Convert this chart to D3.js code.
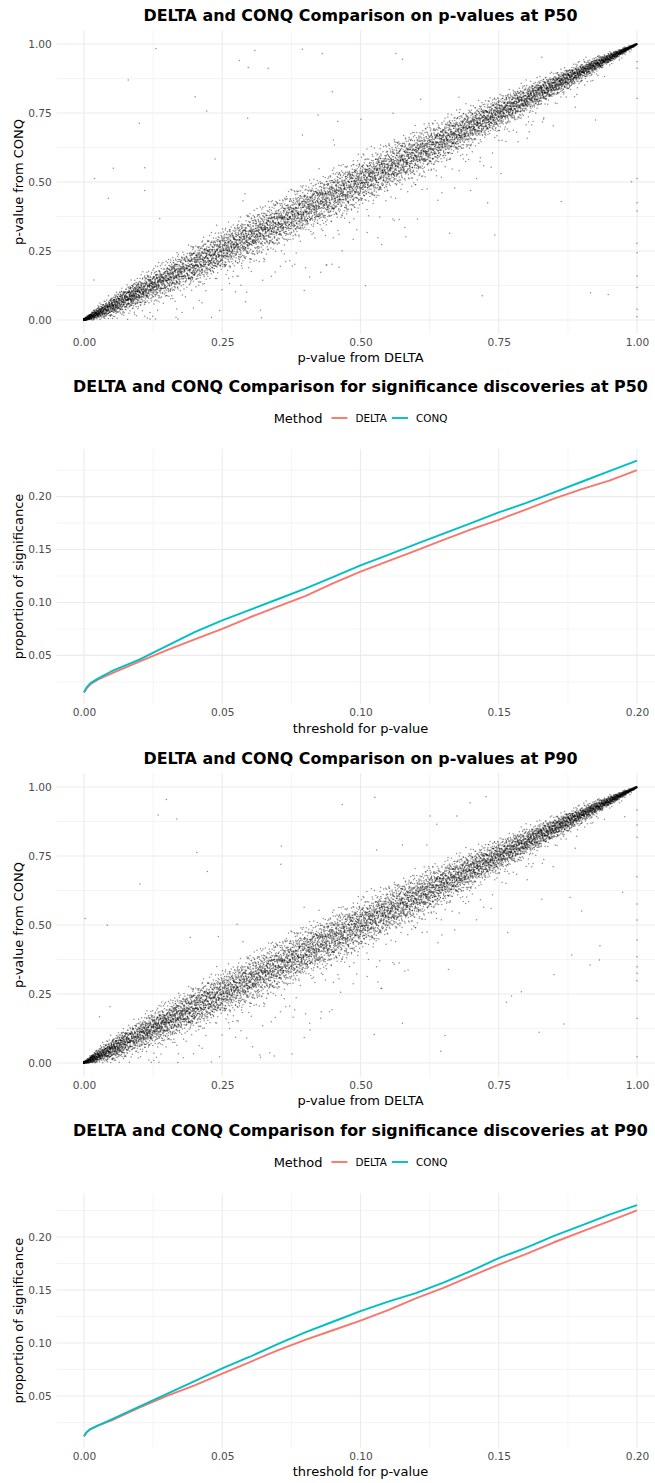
<!DOCTYPE html>
<html>
<head>
<meta charset="utf-8">
<script src="https://cdn.jsdelivr.net/npm/d3@7"></script>
<style>
  body { margin: 0; background: #fff; }
  svg { display: block; font-family: "DejaVu Sans", sans-serif; }
</style>
</head>
<body>
<div id="chart"></div>
<script>
// ─── data ───
const thresholds = [0, 0.001, 0.0025, 0.005, 0.01, 0.02, 0.03, 0.04, 0.05, 0.06, 0.07, 0.08, 0.09, 0.10,
  0.11, 0.12, 0.13, 0.14, 0.15, 0.16, 0.17, 0.18, 0.19, 0.20];
const p50Delta = [0.015, 0.019, 0.023, 0.027, 0.033, 0.044, 0.055, 0.065, 0.075, 0.086, 0.096, 0.106, 0.118, 0.129,
  0.139, 0.149, 0.159, 0.169, 0.178, 0.188, 0.198, 0.207, 0.215, 0.225];
const p50Conq = [0.015, 0.020, 0.024, 0.028, 0.035, 0.046, 0.059, 0.072, 0.083, 0.093, 0.103, 0.113, 0.124, 0.135,
  0.145, 0.155, 0.165, 0.175, 0.185, 0.194, 0.204, 0.214, 0.224, 0.234];
const p90Delta = [0.012, 0.016, 0.019, 0.022, 0.027, 0.039, 0.050, 0.060, 0.071, 0.082, 0.093, 0.103, 0.112, 0.121,
  0.131, 0.142, 0.152, 0.163, 0.174, 0.184, 0.195, 0.205, 0.215, 0.225];
const p90Conq = [0.012, 0.016, 0.019, 0.022, 0.028, 0.040, 0.052, 0.064, 0.076, 0.087, 0.099, 0.110, 0.120, 0.130,
  0.139, 0.147, 0.157, 0.168, 0.180, 0.190, 0.201, 0.211, 0.221, 0.230];

const methods = ['DELTA', 'CONQ'];
const methodColors = ['#F8766D', '#00BFC4'];

// spread (sd) of the dense band around the diagonal, read at these DELTA p-values
const bandX = [0, 0.02, 0.05, 0.1, 0.2, 0.3, 0.4, 0.5, 0.6, 0.7, 0.8, 0.9, 0.95, 1];
const bandSdP50 = [0.002, 0.009, 0.016, 0.024, 0.033, 0.038, 0.040, 0.040, 0.038, 0.032, 0.024, 0.015, 0.008, 0.001];
const bandSdP90 = [0.002, 0.010, 0.018, 0.026, 0.035, 0.040, 0.042, 0.041, 0.038, 0.031, 0.023, 0.014, 0.008, 0.001];
const cloudCount = 9500;

// isolated points
const outliersP50 = [[0.130,0.984],[0.080,0.870],[0.100,0.713],[0.019,0.513],[0.053,0.550],[0.044,0.441],[0.110,0.552],
  [0.110,0.469],[0.137,0.368],[0.201,0.809],[0.222,0.757],[0.237,0.583],[0.281,0.940],[0.297,0.915],[0.309,0.976],
  [0.333,0.912],[0.296,0.731],[0.395,0.981],[0.431,0.966],[0.423,0.743],[0.395,0.670],[0.018,0.145],[0.291,0.457],
  [0.292,0.066],[0.321,0.008],[0.170,0.004],[0.377,0.196],[0.439,0.199],[0.564,0.966],[0.576,0.945],[0.828,0.952],
  [0.449,0.827],[0.609,0.800],[0.678,0.807],[0.559,0.749],[0.459,0.719],[0.501,0.727],[0.451,0.652],[0.453,0.634],
  [0.887,0.809],[0.925,0.725],[0.831,0.727],[0.785,0.646],[0.805,0.682],[0.750,0.650],[0.716,0.574],[0.754,0.531],
  [0.699,0.469],[0.730,0.425],[0.863,0.429],[0.990,0.501],[0.603,0.366],[0.582,0.302],[0.661,0.314],[0.743,0.308],
  [0.467,0.251],[0.438,0.199],[0.461,0.191],[0.509,0.124],[0.720,0.088],[0.916,0.099],[0.948,0.092],
  [1,0.936],[1,0.912],[1,0.803],[1,0.513],[1,0.425],[1,0.395],[1,0.278],[1,0.244],[1,0.159],[1,0.118],[1,0.039],[1,0.012]];
const outliersP90 = [[0.149,0.955],[0.134,0.899],[0.168,0.884],[0.204,0.763],[0.223,0.694],[0.101,0.649],[0.357,0.786],
  [0.356,0.720],[0.398,0.564],[0.002,0.524],[0.042,0.499],[0.277,0.503],[0.192,0.455],[0.243,0.458],[0.047,0.204],
  [0.028,0.168],[0.336,0.037],[0.344,0.025],[0.376,0.033],[0.409,0.120],[0.429,0.186],[0.378,0.166],[0.305,0.059],
  [0.318,0.029],[0.526,0.963],[0.467,0.937],[0.698,0.943],[0.727,0.965],[0.626,0.895],[0.674,0.895],[0.638,0.865],
  [0.529,0.772],[0.576,0.790],[0.620,0.790],[0.978,0.892],[0.974,0.619],[0.879,0.600],[0.900,0.551],[0.828,0.593],
  [0.766,0.473],[0.933,0.425],[0.882,0.391],[0.932,0.373],[0.915,0.355],[0.850,0.321],[0.659,0.339],[0.586,0.337],
  [0.529,0.349],[0.537,0.271],[0.464,0.256],[0.773,0.243],[0.791,0.258],[0.764,0.220],[0.444,0.186],[0.576,0.144],
  [0.868,0.141],[0.525,0.103],[0.653,0.100],[0.823,0.111],[0.645,0.043],
  [1,0.917],[1,0.862],[1,0.818],[1,0.675],[1,0.576],[1,0.518],[1,0.446],[1,0.385],[1,0.349],[1,0.325],[1,0.298],[1,0.162],[1,0.023]];

const scatterTicks = [0, 0.25, 0.5, 0.75, 1];
const scatterMinor = [0.125, 0.375, 0.625, 0.875];
const lineXTicks = [0, 0.05, 0.1, 0.15, 0.2];
const lineXMinor = [0.025, 0.075, 0.125, 0.175];
const lineYTicks = [0.05, 0.1, 0.15, 0.2];
const lineYMinor = [0.025, 0.075, 0.125, 0.175, 0.225];

// ─── layout ───
const W = 655, H = 1483;
const panelLeft = 56.35, panelRight = 664.65;
const midX = (panelLeft + panelRight) / 2;

const svg = d3.select('#chart').append('svg').attr('width', W).attr('height', H);

function halton(i, b) {
  let f = 1, r = 0;
  while (i > 0) { f /= b; r += f * (i % b); i = Math.floor(i / b); }
  return r;
}

// quasi-random fill of the band described above; x follows the DELTA curve as its CDF
function buildCloud(sdArr, deltaCdf) {
  const invCdf = d3.scaleLinear().domain(deltaCdf.concat([1])).range(thresholds.concat([1])).clamp(true);
  const sd = d3.scaleLinear().domain(bandX).range(sdArr);
  const pts = [];
  for (let i = 1; i <= cloudCount; i++) {
    const u = halton(i, 2);
    const x = u < deltaCdf[0] ? 0 : invCdf(u);
    let z = (halton(i, 3) + halton(i, 5) + halton(i, 7) + halton(i, 11) - 2) * Math.sqrt(3);
    if (i % 25 === 0) z *= 2.5;
    let y = x + z * sd(x);
    if (y < 0) y = -y;
    if (y > 1) y = 2 - y;
    pts.push([x, y]);
  }
  return pts;
}

function expand(ext) {
  const pad = (ext[1] - ext[0]) * 0.05;
  return [ext[0] - pad, ext[1] + pad];
}

function grid(g, x, y, top, bottom, xMaj, xMin, yMaj, yMin) {
  const minorStyle = l => l.attr('stroke', '#EBEBEB').attr('stroke-width', 0.55);
  const majorStyle = l => l.attr('stroke', '#EBEBEB').attr('stroke-width', 1.1);
  g.selectAll(null).data(yMin).enter().append('line')
    .attr('x1', panelLeft).attr('x2', panelRight).attr('y1', d => y(d)).attr('y2', d => y(d)).call(minorStyle);
  g.selectAll(null).data(xMin).enter().append('line')
    .attr('y1', top).attr('y2', bottom).attr('x1', d => x(d)).attr('x2', d => x(d)).call(minorStyle);
  g.selectAll(null).data(yMaj).enter().append('line')
    .attr('x1', panelLeft).attr('x2', panelRight).attr('y1', d => y(d)).attr('y2', d => y(d)).call(majorStyle);
  g.selectAll(null).data(xMaj).enter().append('line')
    .attr('y1', top).attr('y2', bottom).attr('x1', d => x(d)).attr('x2', d => x(d)).call(majorStyle);
}

function axes(g, x, y, top, bottom, xTicks, yTicks, xTitle, yTitle) {
  const ax = g.append('g').attr('transform', `translate(0,${bottom})`)
    .call(d3.axisBottom(x).tickValues(xTicks).tickFormat(d3.format('.2f')).tickSize(0).tickPadding(4.5));
  const ay = g.append('g').attr('transform', `translate(${panelLeft},0)`)
    .call(d3.axisLeft(y).tickValues(yTicks).tickFormat(d3.format('.2f')).tickSize(0).tickPadding(4.6));
  [ax, ay].forEach(a => {
    a.select('.domain').remove();
    a.selectAll('text').attr('fill', '#4D4D4D').style('font-size', '10.6px').style('font-family', '"DejaVu Sans", sans-serif');
  });
  g.append('text').attr('x', midX).attr('y', bottom + 28.5).attr('text-anchor', 'middle')
    .style('font-size', '13px').attr('fill', '#000').text(xTitle);
  g.append('text').attr('transform', `translate(18.7,${(top + bottom) / 2}) rotate(-90)`)
    .attr('dy', '0.35em').attr('text-anchor', 'middle')
    .style('font-size', '13px').attr('fill', '#000').text(yTitle);
}

function title(g, yBase, txt) {
  g.append('text').attr('x', midX).attr('y', yBase).attr('text-anchor', 'middle')
    .style('font-size', '15.9px').style('font-weight', 'bold').attr('fill', '#000').text(txt);
}

function drawScatter(top, bottom, titleY, titleText, sdArr, deltaCdf, outliers) {
  const g = svg.append('g');
  const x = d3.scaleLinear().domain(expand([0, 1])).range([panelLeft, panelRight]);
  const y = d3.scaleLinear().domain(expand([0, 1])).range([bottom, top]);
  grid(g, x, y, top, bottom, scatterTicks, scatterMinor, scatterTicks, scatterMinor);
  const pts = buildCloud(sdArr, deltaCdf).concat(outliers);
  g.append('g').selectAll('circle').data(pts).enter().append('circle')
    .attr('cx', d => x(d[0])).attr('cy', d => y(d[1])).attr('r', 0.75)
    .attr('fill', '#000').attr('fill-opacity', 0.45);
  axes(g, x, y, top, bottom, scatterTicks, scatterTicks, 'p-value from DELTA', 'p-value from CONQ');
  title(g, titleY, titleText);
}

function drawLines(top, bottom, titleY, legendY, titleText, series) {
  const g = svg.append('g');
  const x = d3.scaleLinear().domain(expand(d3.extent(thresholds))).range([panelLeft, panelRight]);
  const y = d3.scaleLinear().domain(expand(d3.extent(series.flat()))).range([bottom, top]);
  grid(g, x, y, top, bottom, lineXTicks, lineXMinor, lineYTicks, lineYMinor);
  const line = d3.line().x((d, i) => x(thresholds[i])).y(d => y(d));
  series.forEach((s, k) => {
    g.append('path').datum(s).attr('d', line).attr('fill', 'none')
      .attr('stroke', methodColors[k]).attr('stroke-width', 1.9).attr('stroke-linejoin', 'round');
  });
  axes(g, x, y, top, bottom, lineXTicks, lineYTicks, 'threshold for p-value', 'proportion of significance');
  title(g, titleY, titleText);

  // legend, laid out left to right then centred on the panel
  const lg = g.append('g');
  const lt = lg.append('text').attr('y', legendY + 4.6).style('font-size', '13px').attr('fill', '#000').text('Method');
  let cx = lt.node().getComputedTextLength() + 9;
  methods.forEach((m, k) => {
    lg.append('line').attr('x1', cx).attr('x2', cx + 16).attr('y1', legendY).attr('y2', legendY)
      .attr('stroke', methodColors[k]).attr('stroke-width', 1.9);
    cx += 16 + 8;
    const t = lg.append('text').attr('x', cx).attr('y', legendY + 3.7)
      .style('font-size', '10.4px').attr('fill', '#000').text(m);
    cx += t.node().getComputedTextLength() + 5;
  });
  const total = cx - 5;
  lg.attr('transform', `translate(${midX - total / 2},0)`);
}

drawScatter(30.2, 333.8, 20.5, 'DELTA and CONQ Comparison on p-values at P50', bandSdP50, p50Delta, outliersP50);
drawLines(449, 704, 391.5, 418, 'DELTA and CONQ Comparison for significance discoveries at P50', [p50Delta, p50Conq]);
drawScatter(773.2, 1076.8, 764, 'DELTA and CONQ Comparison on p-values at P90', bandSdP90, p90Delta, outliersP90);
drawLines(1193.6, 1447.8, 1136, 1162, 'DELTA and CONQ Comparison for significance discoveries at P90', [p90Delta, p90Conq]);
</script>
</body>
</html>
